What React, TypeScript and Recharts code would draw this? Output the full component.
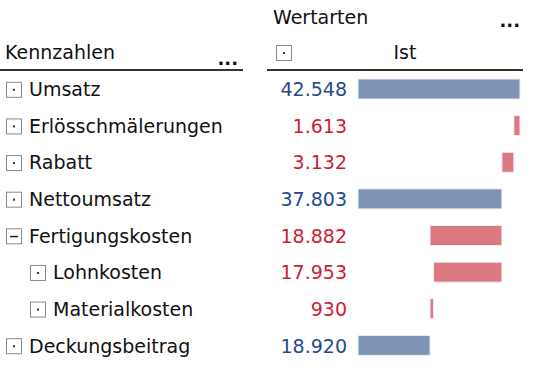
import { BarChart, Bar, XAxis, YAxis, Cell } from "recharts";

const names = [
  "Umsatz",
  "Erlösschmälerungen",
  "Rabatt",
  "Nettoumsatz",
  "Fertigungskosten",
  "Lohnkosten",
  "Materialkosten",
  "Deckungsbeitrag",
];
const values = [42548, 1613, 3132, 37803, 18882, 17953, 930, 18920];
// waterfall starting points of each bar
const bases = [0, 40935, 37803, 0, 18921, 19850, 18920, 0];
const isTotal = [true, false, false, true, false, false, false, true];
const levels = [0, 0, 0, 0, 0, 1, 1, 0];
const expanded = [false, false, false, false, true, false, false, false];

const FONT = "'DejaVu Sans', Verdana, sans-serif";
const BAR_BLUE = "#7f93b5";
const BAR_RED = "#dc7882";
const TXT_BLUE = "#1f4b8c";
const TXT_RED = "#cc1f35";

const chartData = names.map((name, i) => ({
  name,
  base: bases[i],
  value: values[i],
}));

const fmt = (n: number) => String(n).replace(/\B(?=(\d{3})+(?!\d))/g, ".");

function Box({ x, y, minus }: { x: number; y: number; minus?: boolean }) {
  return (
    <g>
      <rect x={x + 0.5} y={y + 0.5} width={15} height={15} fill="#fff" stroke="#8a8a8a" />
      {minus ? (
        <rect x={x + 4} y={y + 7.5} width={8} height={1.5} fill="#222" />
      ) : (
        <rect x={x + 7} y={y + 7} width={2} height={2} fill="#333" />
      )}
    </g>
  );
}

function RowTick(props: any) {
  const { y, payload } = props;
  const i = payload.index;
  const indent = levels[i] * 24;
  return (
    <g>
      <Box x={6 + indent} y={y - 7.5} minus={expanded[i]} />
      <text x={29 + indent} y={y} dy="0.36em" fontFamily={FONT} fontSize={19} fill="#111">
        {names[i]}
      </text>
      <text
        x={347}
        y={y}
        dy="0.36em"
        textAnchor="end"
        fontFamily={FONT}
        fontSize={19}
        fill={isTotal[i] ? TXT_BLUE : TXT_RED}
      >
        {fmt(values[i])}
      </text>
    </g>
  );
}

function Header() {
  return (
    <svg
      width={533}
      height={80}
      style={{ position: "absolute", left: 0, top: 0, pointerEvents: "none" }}
    >
      <text x={273} y={17} dy="0.36em" fontFamily={FONT} fontSize={19} fill="#111">
        Wertarten
      </text>
      <text x={520} y={27} textAnchor="end" fontFamily={FONT} fontSize={18} fontWeight="bold" fill="#111">
        ...
      </text>
      <text x={5} y={52} dy="0.36em" fontFamily={FONT} fontSize={19} fill="#111">
        Kennzahlen
      </text>
      <text x={238} y={65} textAnchor="end" fontFamily={FONT} fontSize={18} fontWeight="bold" fill="#111">
        ...
      </text>
      <Box x={276} y={45} />
      <text x={405} y={52} dy="0.36em" textAnchor="middle" fontFamily={FONT} fontSize={19} fill="#111">
        Ist
      </text>
      <rect x={0} y={69} width={243} height={2} fill="#333" />
      <rect x={267} y={69} width={256} height={2} fill="#333" />
    </svg>
  );
}

export default function App() {
  return (
    <div style={{ position: "absolute", left: 0, top: 0, width: 533, height: 370, background: "#fff" }}>
      <BarChart
        width={533}
        height={370}
        data={chartData}
        layout="vertical"
        margin={{ top: 71, right: 13, bottom: 6, left: 0 }}
        barSize={20}
      >
        <XAxis type="number" domain={[0, 42548]} hide />
        <YAxis
          type="category"
          dataKey="name"
          width={358}
          axisLine={false}
          tickLine={false}
          interval={0}
          tick={<RowTick />}
        />
        <Bar dataKey="base" stackId="w" fill="transparent" isAnimationActive={false} />
        <Bar dataKey="value" stackId="w" isAnimationActive={false}>
          {chartData.map((d, i) => (
            <Cell key={d.name} fill={isTotal[i] ? BAR_BLUE : BAR_RED} stroke="#eef0f6" strokeWidth={1} />
          ))}
        </Bar>
      </BarChart>
      <Header />
    </div>
  );
}
